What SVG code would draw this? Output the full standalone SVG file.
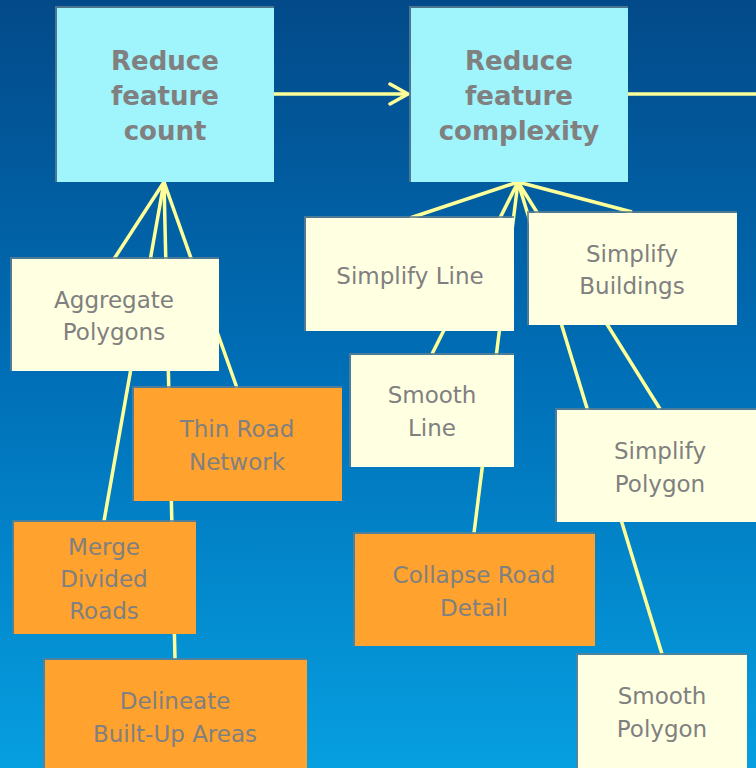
<svg xmlns="http://www.w3.org/2000/svg" width="756" height="768" viewBox="0 0 756 768">
<defs>
<linearGradient id="bg" x1="0" y1="0" x2="0" y2="1">
<stop offset="0" stop-color="#034a89"/>
<stop offset="0.5" stop-color="#0070b8"/>
<stop offset="1" stop-color="#069fe0"/>
</linearGradient>
<marker id="chev" viewBox="0 0 24 24" markerWidth="24" markerHeight="24" refX="20" refY="12" markerUnits="userSpaceOnUse" orient="auto">
<path d="M2,2 L20,12 L2,22" fill="none" stroke="#ffff99" stroke-width="3.5" stroke-linecap="round" stroke-linejoin="round"/>
</marker>
<style>
.ln{stroke:#ffff99;stroke-width:3.5;fill:none}
.sh{fill:#5f7f90;opacity:0.8}
.cy{fill:#a0f4fc}
.cr{fill:#ffffe2}
.or{fill:#ffa22e}
.tt{font-family:"DejaVu Sans",Verdana,sans-serif;font-weight:bold;font-size:26px;fill:#808080;text-anchor:middle}
.tx{font-family:"DejaVu Sans",Verdana,sans-serif;font-size:23px;fill:#808080;text-anchor:middle}
</style>
</defs>
<rect width="756" height="768" fill="url(#bg)"/>
<g id="connectors">
<line class="ln" x1="274" y1="94" x2="408" y2="94" marker-end="url(#chev)"/>
<line class="ln" x1="628" y1="94" x2="756" y2="94"/>
<line class="ln" x1="164" y1="182" x2="114" y2="259"/>
<line class="ln" x1="164" y1="182" x2="104" y2="521"/>
<line class="ln" x1="164" y1="182" x2="175" y2="659"/>
<line class="ln" x1="164" y1="182" x2="237" y2="388"/>
<line class="ln" x1="518" y1="182" x2="410" y2="218"/>
<line class="ln" x1="518" y1="182" x2="432" y2="354"/>
<line class="ln" x1="518" y1="182" x2="474" y2="533"/>
<line class="ln" x1="518" y1="182" x2="662" y2="654"/>
<line class="ln" x1="518" y1="182" x2="660" y2="409"/>
<line class="ln" x1="518" y1="182" x2="632" y2="212"/>
</g>
<g id="reduce-count">
<rect class="sh" x="55" y="6" width="219" height="176"/>
<rect class="cy" x="57" y="8" width="217" height="174"/>
<text class="tt" x="165" y="70">Reduce</text>
<text class="tt" x="165" y="105">feature</text>
<text class="tt" x="165" y="140">count</text>
</g>
<g id="reduce-complexity">
<rect class="sh" x="409" y="6" width="219" height="176"/>
<rect class="cy" x="411" y="8" width="217" height="174"/>
<text class="tt" x="519" y="70">Reduce</text>
<text class="tt" x="519" y="105">feature</text>
<text class="tt" x="519" y="140">complexity</text>
</g>
<g id="aggregate-polygons">
<rect class="sh" x="10" y="257" width="209" height="114"/>
<rect class="cr" x="12" y="259" width="207" height="112"/>
<text class="tx" x="114" y="308">Aggregate</text>
<text class="tx" x="114" y="340">Polygons</text>
</g>
<g id="thin-road-network">
<rect class="sh" x="132" y="386" width="210" height="115"/>
<rect class="or" x="134" y="388" width="208" height="113"/>
<text class="tx" x="237" y="437">Thin Road</text>
<text class="tx" x="237" y="470">Network</text>
</g>
<g id="merge-divided-roads">
<rect class="sh" x="12" y="520" width="184" height="114"/>
<rect class="or" x="14" y="522" width="182" height="112"/>
<text class="tx" x="104" y="555">Merge</text>
<text class="tx" x="104" y="587">Divided</text>
<text class="tx" x="104" y="619">Roads</text>
</g>
<g id="delineate-built-up-areas">
<rect class="sh" x="43" y="658" width="264" height="112"/>
<rect class="or" x="45" y="660" width="262" height="110"/>
<text class="tx" x="175" y="709">Delineate</text>
<text class="tx" x="175" y="742">Built-Up Areas</text>
</g>
<g id="simplify-line">
<rect class="sh" x="304" y="216" width="210" height="115"/>
<rect class="cr" x="306" y="218" width="208" height="113"/>
<text class="tx" x="410" y="284">Simplify Line</text>
</g>
<g id="simplify-buildings">
<rect class="sh" x="527" y="211" width="210" height="114"/>
<rect class="cr" x="529" y="213" width="208" height="112"/>
<text class="tx" x="632" y="262">Simplify</text>
<text class="tx" x="632" y="294">Buildings</text>
</g>
<g id="smooth-line">
<rect class="sh" x="349" y="353" width="165" height="114"/>
<rect class="cr" x="351" y="355" width="163" height="112"/>
<text class="tx" x="432" y="403">Smooth</text>
<text class="tx" x="432" y="436">Line</text>
</g>
<g id="simplify-polygon">
<rect class="sh" x="555" y="408" width="203" height="114"/>
<rect class="cr" x="557" y="410" width="201" height="112"/>
<text class="tx" x="660" y="459">Simplify</text>
<text class="tx" x="660" y="492">Polygon</text>
</g>
<g id="collapse-road-detail">
<rect class="sh" x="353" y="532" width="242" height="114"/>
<rect class="or" x="355" y="534" width="240" height="112"/>
<text class="tx" x="474" y="583">Collapse Road</text>
<text class="tx" x="474" y="616">Detail</text>
</g>
<g id="smooth-polygon">
<rect class="sh" x="576" y="653" width="171" height="117"/>
<rect class="cr" x="578" y="655" width="169" height="115"/>
<text class="tx" x="662" y="704">Smooth</text>
<text class="tx" x="662" y="737">Polygon</text>
</g>
</svg>
